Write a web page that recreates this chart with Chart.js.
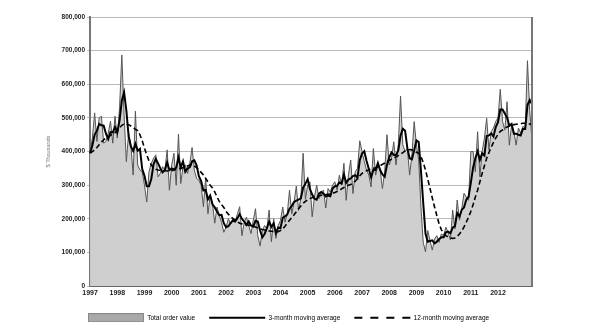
<!DOCTYPE html>
<html>
<head>
<meta charset="utf-8">
<script src="https://cdn.jsdelivr.net/npm/chart.js@4.4.1/dist/chart.umd.min.js"></script>
<style>
  html, body { margin: 0; padding: 0; background: #fff; }
  #wrap { width: 595px; height: 335px; }
</style>
</head>
<body>
<div id="wrap"><canvas id="orderChart"></canvas></div>
<script>
// year labels under the January of each year
const years = ['1997', '1998', '1999', '2000', '2001', '2002', '2003', '2004',
               '2005', '2006', '2007', '2008', '2009', '2010', '2011', '2012'];

// monthly values, $ thousands, Jan 1997 - Apr 2013
const totalOrderValue = [
  395000, 440000, 515000, 430000, 500000, 505000, 425000, 430000, 455000, 490000, 425000, 505000,
  440000, 530000, 687000, 510000, 370000, 455000, 420000, 330000, 520000, 360000, 345000, 340000,
  300000, 250000, 340000, 365000, 380000, 390000, 325000, 335000, 355000, 345000, 405000, 285000,
  360000, 395000, 300000, 452000, 305000, 355000, 360000, 335000, 365000, 412000, 345000, 320000,
  315000, 300000, 236000, 322000, 215000, 270000, 245000, 187000, 235000, 210000, 190000, 160000,
  175000, 200000, 185000, 200000, 190000, 215000, 236000, 150000, 190000, 205000, 180000, 156000,
  195000, 230000, 150000, 119000, 165000, 180000, 170000, 226000, 132000, 200000, 142000, 180000,
  195000, 235000, 190000, 215000, 285000, 215000, 250000, 297000, 225000, 260000, 395000, 258000,
  300000, 310000, 206000, 265000, 300000, 260000, 280000, 285000, 232000, 290000, 280000, 300000,
  310000, 285000, 330000, 300000, 365000, 255000, 330000, 375000, 275000, 340000, 350000, 432000,
  400000, 370000, 345000, 330000, 295000, 409000, 330000, 360000, 345000, 290000, 340000, 450000,
  360000, 380000, 429000, 360000, 420000, 565000, 420000, 400000, 410000, 330000, 390000, 489000,
  420000, 375000, 235000, 130000, 102000, 165000, 135000, 107000, 140000, 150000, 130000, 155000,
  150000, 175000, 160000, 137000, 226000, 170000, 256000, 196000, 230000, 276000, 265000, 255000,
  400000, 400000, 340000, 459000, 325000, 400000, 440000, 499000, 405000, 459000, 470000, 490000,
  500000, 585000, 490000, 464000, 548000, 419000, 480000, 460000, 419000, 470000, 455000, 475000,
  470000, 670000, 520000, 434000
];

const movingAvg3 = [
  395000, 418000, 450000, 462000, 482000, 478000, 477000, 453000, 437000, 458000, 457000, 473000,
  457000, 492000, 552000, 576000, 522000, 445000, 415000, 402000, 423000, 403000, 408000, 348000,
  328000, 297000, 297000, 318000, 362000, 378000, 365000, 350000, 338000, 345000, 368000, 345000,
  350000, 347000, 352000, 382000, 352000, 371000, 340000, 350000, 353000, 371000, 374000, 359000,
  327000, 312000, 284000, 286000, 258000, 269000, 243000, 234000, 222000, 211000, 212000, 187000,
  175000, 178000, 187000, 195000, 192000, 202000, 214000, 200000, 192000, 182000, 192000, 180000,
  177000, 194000, 192000, 166000, 145000, 155000, 172000, 192000, 176000, 186000, 158000, 174000,
  172000, 203000, 207000, 213000, 230000, 238000, 250000, 254000, 257000, 261000, 293000, 304000,
  318000, 289000, 272000, 260000, 257000, 275000, 280000, 275000, 266000, 269000, 267000, 290000,
  297000, 298000, 308000, 305000, 332000, 307000, 317000, 320000, 327000, 330000, 322000, 374000,
  394000, 401000, 372000, 348000, 323000, 345000, 345000, 366000, 345000, 332000, 325000, 360000,
  383000, 397000, 390000, 390000, 403000, 448000, 468000, 462000, 410000, 380000, 377000, 403000,
  433000, 428000, 343000, 247000, 156000, 132000, 134000, 136000, 127000, 132000, 140000, 145000,
  145000, 160000, 162000, 157000, 174000, 178000, 217000, 207000, 227000, 234000, 257000, 265000,
  307000, 352000, 380000, 400000, 375000, 395000, 388000, 446000, 448000, 454000, 445000, 473000,
  487000, 525000, 525000, 513000, 501000, 477000, 482000, 453000, 453000, 450000, 448000, 467000,
  467000, 538000, 553000, 541000
];

const movingAvg12 = [
  395000, 400000, 405000, 412000, 420000, 428000, 435000, 440000, 444000, 448000, 452000, 456000,
  462000, 470000, 478000, 482000, 482000, 480000, 476000, 472000, 466000, 462000, 450000, 432000,
  410000, 390000, 372000, 360000, 352000, 347000, 345000, 344000, 344000, 343000, 342000, 342000,
  343000, 345000, 346000, 348000, 350000, 352000, 354000, 357000, 360000, 360000, 357000, 352000,
  345000, 338000, 330000, 320000, 310000, 300000, 292000, 280000, 265000, 252000, 242000, 234000,
  222000, 214000, 207000, 201000, 196000, 191000, 187000, 185000, 183000, 182000, 181000, 180000,
  178000, 176000, 173000, 170000, 168000, 167000, 165000, 164000, 163000, 162000, 162000, 162000,
  165000, 170000, 178000, 187000, 196000, 204000, 212000, 221000, 230000, 238000, 246000, 252000,
  256000, 260000, 263000, 265000, 266000, 268000, 270000, 271000, 272000, 273000, 274000, 276000,
  278000, 281000, 285000, 289000, 293000, 297000, 300000, 302000, 306000, 312000, 320000, 328000,
  335000, 340000, 343000, 346000, 349000, 350000, 352000, 355000, 358000, 362000, 366000, 370000,
  374000, 377000, 380000, 384000, 388000, 392000, 397000, 402000, 405000, 406000, 405000, 402000,
  398000, 395000, 385000, 368000, 345000, 318000, 290000, 262000, 235000, 210000, 185000, 168000,
  157000, 150000, 146000, 143000, 142000, 143000, 148000, 155000, 164000, 176000, 190000, 205000,
  222000, 242000, 265000, 285000, 310000, 335000, 358000, 380000, 397000, 413000, 427000, 440000,
  451000, 460000, 464000, 469000, 473000, 476000, 478000, 480000, 481000, 482000, 483000, 484000,
  484000, 484000, 482000, 480000
];

document.addEventListener('DOMContentLoaded', () => {
    const font = "'Liberation Sans', Arial, sans-serif";

    // one label per month, the year shown on each January
    const labels = totalOrderValue.map((v, i) => (i % 12 === 0 && years[i / 12]) ? years[i / 12] : '');

    // grey swatch used as the legend symbol of the area series
    const swatch = document.createElement('canvas');
    swatch.width = 56;
    swatch.height = 9;
    const sctx = swatch.getContext('2d');
    sctx.fillStyle = '#a9a9ab';
    sctx.fillRect(0, 0, 56, 9);
    sctx.strokeStyle = '#8a8a8a';
    sctx.lineWidth = 1;
    sctx.strokeRect(0.5, 0.5, 55, 8);

    // right-hand edge of the plot box
    const frame = {
        id: 'frame',
        afterDraw(chart) {
            const { ctx, chartArea } = chart;
            ctx.save();
            ctx.strokeStyle = '#777';
            ctx.lineWidth = 2;
            ctx.beginPath();
            ctx.moveTo(chartArea.right, chartArea.top);
            ctx.lineTo(chartArea.right, chartArea.bottom);
            ctx.stroke();
            ctx.restore();
        }
    };

    const ctx = document.getElementById('orderChart').getContext('2d');
    new Chart(ctx, {
        type: 'line',
        data: {
            labels: labels,
            datasets: [{
                label: 'Total order value',
                data: totalOrderValue,
                borderColor: '#555',
                borderWidth: 1,
                backgroundColor: '#cfcfcf',
                fill: 'origin',
                pointRadius: 0,
                order: 3
            }, {
                label: '3-month moving average',
                data: movingAvg3,
                borderColor: '#000',
                borderWidth: 2,
                fill: false,
                pointRadius: 0,
                order: 1
            }, {
                label: '12-month moving average',
                data: movingAvg12,
                borderColor: '#000',
                borderWidth: 1.6,
                borderDash: [5, 3],
                fill: false,
                pointRadius: 0,
                order: 2
            }]
        },
        plugins: [frame],
        options: {
            responsive: true,
            maintainAspectRatio: false,
            animation: false,
            layout: { padding: { left: 45, right: 63, top: 17, bottom: 4 } },
            plugins: {
                tooltip: { enabled: false },
                legend: {
                    position: 'bottom',
                    labels: {
                        usePointStyle: true,
                        pointStyleWidth: 56,
                        padding: 14,
                        color: '#333',
                        font: { family: font, size: 6.5 },
                        generateLabels: chart => chart.data.datasets.map((ds, i) => ({
                            text: ds.label,
                            datasetIndex: i,
                            hidden: false,
                            fillStyle: 'transparent',
                            strokeStyle: '#000',
                            lineWidth: 2,
                            lineDash: i === 2 ? [8, 8] : [],
                            pointStyle: i === 0 ? swatch : 'line'
                        }))
                    }
                }
            },
            scales: {
                x: {
                    grid: { display: false, drawTicks: false },
                    border: { display: true, color: '#666', width: 2 },
                    ticks: {
                        autoSkip: false,
                        maxRotation: 0,
                        padding: 3,
                        color: '#222',
                        font: { family: font, size: 7, weight: 'bold' }
                    }
                },
                y: {
                    min: 0,
                    max: 800000,
                    grid: { color: '#b8b8b8', lineWidth: 1, tickLength: 3 },
                    border: { color: '#777', width: 2 },
                    title: {
                        display: true,
                        text: '$ Thousands',
                        color: '#777',
                        font: { family: font, size: 5.5 },
                        padding: { top: 0, bottom: 8 }
                    },
                    ticks: {
                        stepSize: 100000,
                        padding: 2,
                        color: '#222',
                        font: { family: font, size: 6.5, weight: 'bold' },
                        callback: value => value.toLocaleString('en-US')
                    }
                }
            }
        }
    });
});
</script>
</body>
</html>
